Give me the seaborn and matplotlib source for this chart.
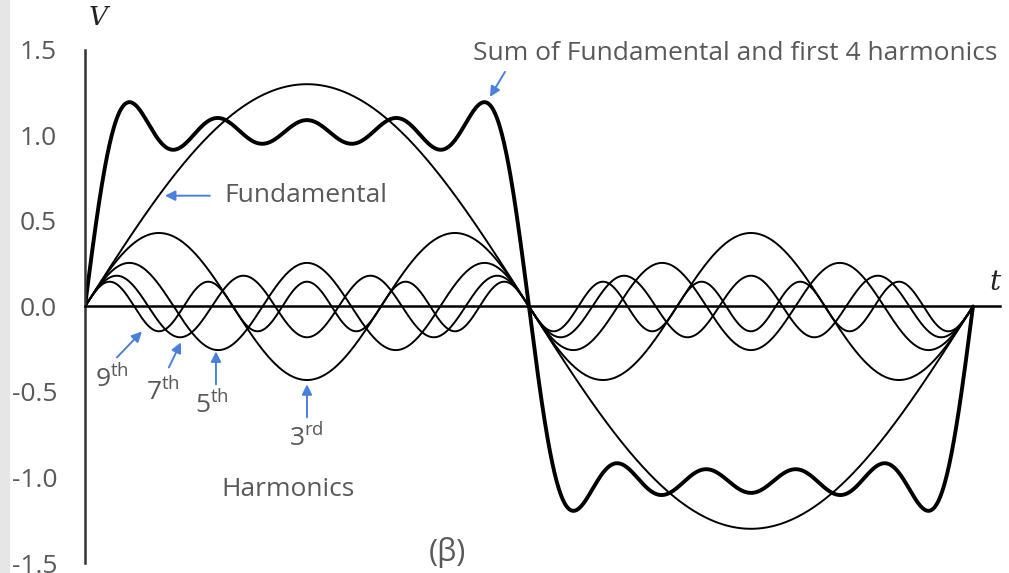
import numpy as np
import pandas as pd
import matplotlib
matplotlib.use("Agg")
import matplotlib.pyplot as plt
from matplotlib.patches import Rectangle
import seaborn as sns

# odd harmonics of a square wave, amplitudes
orders = [1, 3, 5, 7, 9]
amplitudes = [1.30, 0.43, 0.255, 0.18, 0.145]
curve_names = ["Fundamental", "3rd", "5th", "7th", "9th"]

y_ticks = [-1.5, -1.0, -0.5, 0.0, 0.5, 1.0, 1.5]
y_tick_labels = ["-1.5", "-1.0", "-0.5", "0.0", "0.5", "1.0", "1.5"]

t = np.linspace(0, 2 * np.pi, 1200)
frames = []
for n, a, name in zip(orders, amplitudes, curve_names):
    frames.append(pd.DataFrame({"t": t, "V": a * np.sin(n * t), "curve": name}))
curves = pd.concat(frames, ignore_index=True)
total = curves.groupby("t", as_index=False)["V"].sum()

sns.set_style("white")
plt.rcParams["font.family"] = ["Open Sans", "DejaVu Sans"]
plt.rcParams["mathtext.fontset"] = "custom"
plt.rcParams["mathtext.rm"] = "Open Sans"

fig = plt.figure(figsize=(10.09, 5.73), dpi=100)
ax = fig.add_axes([0.0842, 0.01745, 0.9068, 0.8953])
fig.patches.append(Rectangle((0, 0), 9 / 1009, 1, transform=fig.transFigure,
                             color="#e6e6e6", zorder=0))

sns.lineplot(data=curves, x="t", y="V", units="curve", estimator=None,
             color="black", lw=1.4, sort=False, ax=ax)
sns.lineplot(data=total, x="t", y="V", estimator=None, color="black",
             lw=2.8, sort=False, ax=ax)

xmax = 2 * np.pi * 1.0304
ax.set_xlim(0, xmax)
ax.set_ylim(-1.5, 1.5)
ax.set_xlabel("")
ax.set_ylabel("")

for s in ["top", "right"]:
    ax.spines[s].set_visible(False)
ax.spines["left"].set_color("#333333")
ax.spines["left"].set_linewidth(1.8)
ax.spines["bottom"].set_position(("data", 0))
ax.spines["bottom"].set_color("black")
ax.spines["bottom"].set_linewidth(1.8)

ax.set_yticks(y_ticks)
ax.set_yticklabels(y_tick_labels)
ax.tick_params(axis="y", direction="out", length=6.5, width=1.5, color="#333333",
               labelsize=19, labelcolor="#595959", pad=13.5)
ax.set_xticks([np.pi / 2, 3 * np.pi / 2])
ax.set_xticklabels([])
ax.tick_params(axis="x", direction="out", length=4, width=1, color="black")

txt = "#595959"
arrow = dict(arrowstyle="-|>", color="#4a80dd", lw=1.4, mutation_scale=15,
             shrinkA=0, shrinkB=0)
fs = 19

ax.text(2.745, 1.48, "Sum of Fundamental and first 4 harmonics", ha="left",
        va="center", color=txt, fontsize=fs)
ax.annotate("", xy=(2.866, 1.226), xytext=(2.972, 1.372), arrowprops=arrow)
ax.annotate("", xy=(0.566, 0.648), xytext=(0.884, 0.648), arrowprops=arrow)
ax.text(0.99, 0.648, "Fundamental", ha="left", va="center", color=txt, fontsize=fs)

labels = [("9$^{\\mathrm{th}}$", 0.191, -0.42, 0.226, -0.298, 0.403, -0.146),
          ("7$^{\\mathrm{th}}$", 0.552, -0.50, 0.594, -0.356, 0.679, -0.21),
          ("5$^{\\mathrm{th}}$", 0.899, -0.575, 0.927, -0.455, 0.927, -0.263),
          ("3$^{\\mathrm{rd}}$", 1.564, -0.77, 1.571, -0.648, 1.571, -0.455)]
for lab, lx, ly, ax0, ay0, ax1, ay1 in labels:
    ax.text(lx, ly, lab, ha="center", va="center", color=txt, fontsize=fs)
    ax.annotate("", xy=(ax1, ay1), xytext=(ax0, ay0), arrowprops=arrow)

ax.text(1.436, -1.068, "Harmonics", ha="center", va="center", color=txt, fontsize=fs)
ax.text(2.561, -1.436, "(β)", ha="center", va="center", color=txt, fontsize=22)
ax.text(6.44, 0.14, "t", ha="center", va="center", fontsize=20, style="italic",
        family="DejaVu Serif", color="#222222")
ax.text(0.09, 1.69, "V", ha="center", va="center", fontsize=19, style="italic",
        family="DejaVu Serif", color="#222222", clip_on=False)

fig.savefig("out.png", dpi=100)
